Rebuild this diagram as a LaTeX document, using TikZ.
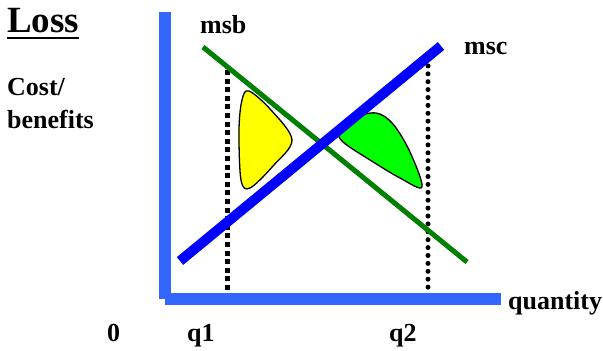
\documentclass[tikz,border=0pt]{standalone}
\usepackage{fontspec}
\setmainfont{Liberation Serif}
\begin{document}
\begin{tikzpicture}[x=1pt,y=-1pt,
  lbl/.style={anchor=base west,inner sep=0pt,font=\fontsize{26}{30}\selectfont\bfseries},
  qline/.style={line width=5pt}]
\definecolor{axisblue}{HTML}{3366FF}
\definecolor{mscblue}{HTML}{0000FF}
\definecolor{msbgreen}{HTML}{008000}
\definecolor{yel}{HTML}{FFFF00}
\definecolor{grn}{HTML}{00FF00}
\useasboundingbox (0,0) rectangle (603,351);
% axes
\fill[axisblue] (159,12) rectangle (171,299);
\fill[axisblue] (165,293) rectangle (501,305);
% dotted verticals
\coordinate (q1t) at (227,70);
\coordinate (q1b) at (227,293);
\coordinate (q2t) at (428,58);
\coordinate (q2b) at (428,291);
\draw[qline,dash pattern=on 5pt off 3.6pt] (q1t) -- (q1b);
\draw[qline,line cap=round,dash pattern=on 0pt off 7.9pt] (q2t) -- (q2b);
% loss areas
\filldraw[fill=yel,draw=black,line width=1.3pt] plot[smooth cycle,tension=0.55] coordinates
  {(249,91) (271,110) (292,140) (273,166) (250,188) (241,180) (239,130) (242,100)};
\filldraw[fill=grn,draw=black,line width=1.3pt] plot[smooth cycle,tension=0.55] coordinates
  {(339,131) (353,118) (376,113) (393,124) (410,152) (422,187) (400,178) (370,160) (343,142)};
% curves
\coordinate (msbA) at (203,47);
\coordinate (msbB) at (467,262);
\coordinate (mscA) at (180,261);
\coordinate (mscB) at (441,46);
\draw[msbgreen,line width=5pt] (msbA) -- (msbB);
\draw[mscblue,line width=10pt] (mscA) -- (mscB);
% labels
\node[lbl,font=\fontsize{37}{40}\selectfont\bfseries] (loss) at (7,32) {Loss};
\draw[line width=2pt] (loss.south west) ++(0,5) coordinate (ul1) -- (ul1 -| loss.south east);
\node[lbl] (cost) at (7,95) {Cost/};
\node[lbl] (ben) at (7,128) {benefits};
\node[lbl] (msb) at (200,33) {msb};
\node[lbl] (msc) at (464,54) {msc};
\node[lbl] (qty) at (508,309) {quantity};
\node[lbl] (zero) at (107,341) {0};
\node[lbl] (q1) at (187,341) {q1};
\node[lbl] (q2) at (389,341) {q2};
\end{tikzpicture}
\end{document}
